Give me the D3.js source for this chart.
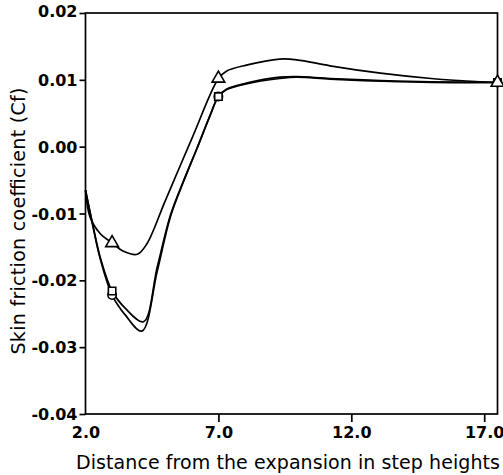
<!DOCTYPE html>
<html>
<head>
<meta charset="utf-8">
<script src="https://cdn.jsdelivr.net/npm/d3@7"></script>
<style>
  body { margin: 0; background: #fff; }
  text { font-family: "DejaVu Sans", sans-serif; fill: #000; }
</style>
</head>
<body>
<div id="canvas"></div>
<script>
// chart data
const xTicks = [2, 7, 12, 17];
const yTicks = [0.02, 0.01, 0.00, -0.01, -0.02, -0.03, -0.04];

// triangle series
const triX = [2.0, 2.17, 2.55, 3.0, 3.45, 3.95, 4.3, 5.0, 6.0, 7.0, 7.3, 8.05, 9.3, 9.95, 11.2, 13.1, 15.0, 16.85, 17.5];
const triY = [-0.0065, -0.0105, -0.013, -0.0144, -0.0157, -0.0161, -0.0146, -0.0081, 0.0012, 0.0102, 0.0113, 0.0122, 0.0131, 0.0130, 0.0121, 0.0110, 0.0102, 0.0097, 0.0096];
// square series
const sqX = [2.0, 2.29, 2.55, 3.0, 3.5, 4.18, 4.7, 5.2, 5.7, 6.2, 6.7, 7.0, 7.3, 8.05, 9.3, 9.95, 11.2, 13.1, 15.0, 17.5];
const sqY = [-0.0065, -0.012, -0.0165, -0.0216, -0.0242, -0.0262, -0.0180, -0.0102, -0.0050, -0.0002, 0.0048, 0.0075, 0.0086, 0.0095, 0.0104, 0.0105, 0.0102, 0.0099, 0.0097, 0.0096];
// circle series
const ciX = [2.0, 2.29, 2.55, 3.0, 3.5, 4.12, 4.7, 5.2, 5.7, 6.2, 6.7, 7.0, 7.3, 8.05, 9.3, 9.95, 11.2, 13.1, 15.0, 17.5];
const ciY = [-0.0065, -0.0121, -0.0167, -0.0222, -0.0252, -0.0276, -0.0186, -0.0104, -0.0051, -0.0002, 0.0048, 0.0075, 0.0085, 0.0094, 0.0102, 0.0104, 0.0101, 0.0098, 0.0096, 0.0096];

// marker positions
const markX = [3.0, 7.0, 17.5];
const triMarkY = [-0.0144, 0.0102, 0.0096];
const sqMarkY = [-0.0216, 0.0075, 0.0096];
const ciMarkY = [-0.0222, 0.0075, 0.0096];

const width = 503, height = 475;
const mLeft = 85.5, mRight = 497.5, mTop = 13, mBottom = 414;

const svg = d3.select("#canvas").append("svg")
    .attr("width", width)
    .attr("height", height);

const x = d3.scaleLinear().domain([2, 17.5]).range([mLeft, mRight]);
const y = d3.scaleLinear().domain([-0.04, 0.02]).range([mBottom, mTop]);

// frame
svg.append("rect")
    .attr("x", mLeft).attr("y", mTop)
    .attr("width", mRight - mLeft).attr("height", mBottom - mTop)
    .attr("fill", "none").attr("stroke", "#000").attr("stroke-width", 1.7);

// axes
const fmtY = d => d3.format(".2f")(d).replace("\u2212", "-");
const xAxis = svg.append("g")
    .attr("transform", `translate(0,${mBottom})`)
    .call(d3.axisBottom(x).tickValues(xTicks).tickSize(8).tickSizeOuter(0).tickFormat(d3.format(".1f")));
const yAxis = svg.append("g")
    .attr("transform", `translate(${mLeft},0)`)
    .call(d3.axisLeft(y).tickValues(yTicks).tickSize(6).tickSizeOuter(0).tickFormat(fmtY));

[xAxis, yAxis].forEach(g => {
    g.select(".domain").remove();
    g.selectAll("line").attr("stroke", "#000").attr("stroke-width", 1.7);
    g.selectAll("text")
        .attr("font-size", 16)
        .attr("font-weight", "bold")
        .attr("font-family", "DejaVu Sans Condensed, DejaVu Sans, sans-serif")
        .attr("fill", "#000");
});
xAxis.selectAll(".tick line").filter(d => d === 2).remove();
xAxis.selectAll("text").attr("y", 13).attr("dy", "0.71em");
yAxis.selectAll("text").attr("x", -8).attr("dy", "0.35em");
yAxis.selectAll(".tick").filter(d => d === 0.02).select("text").attr("dy", "0.2em");

// axis titles
svg.append("text")
    .attr("x", 288)
    .attr("y", 469)
    .attr("text-anchor", "middle")
    .attr("font-size", 19)
    .attr("textLength", 424)
    .text("Distance from the expansion in step heights");
svg.append("text")
    .attr("transform", `translate(25,221) rotate(-90)`)
    .attr("text-anchor", "middle")
    .attr("font-size", 19)
    .attr("textLength", 267)
    .text("Skin friction coefficient (Cf)");

// curves
const line = d3.line()
    .x(d => x(d[0]))
    .y(d => y(d[1]))
    .curve(d3.curveCatmullRom.alpha(0.5));

[[triX, triY], [sqX, sqY], [ciX, ciY]].forEach(([xs, ys]) => {
    svg.append("path")
        .datum(xs.map((v, i) => [v, ys[i]]))
        .attr("d", line)
        .attr("fill", "none")
        .attr("stroke", "#000")
        .attr("stroke-width", 1.7);
});

// markers
const sym = {
    tri: d3.symbol().type(d3.symbolTriangle).size(70),
    sq: d3.symbol().type(d3.symbolSquare).size(55),
    ci: d3.symbol().type(d3.symbolCircle).size(55)
};
function drawMarks(ys, s) {
    markX.forEach((v, i) => {
        svg.append("path")
            .attr("d", s)
            .attr("transform", `translate(${x(v)},${y(ys[i])})`)
            .attr("fill", "#fff")
            .attr("stroke", "#000")
            .attr("stroke-width", 1.6);
    });
}
drawMarks(ciMarkY, sym.ci());
drawMarks(sqMarkY, sym.sq());
drawMarks(triMarkY, sym.tri());
</script>
</body>
</html>
